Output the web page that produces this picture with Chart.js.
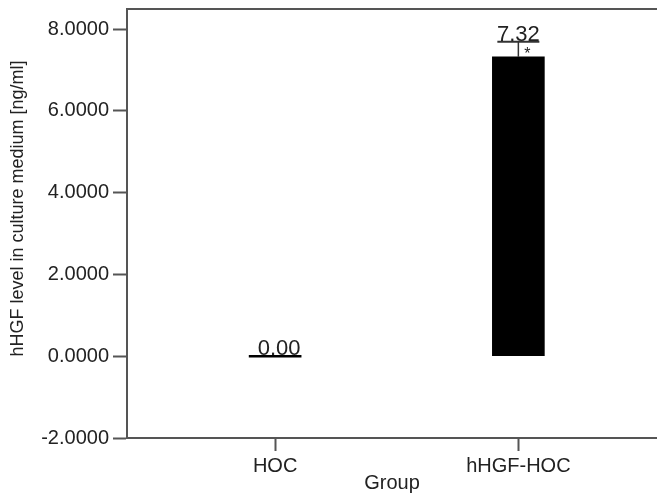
<!DOCTYPE html>
<html>
<head>
<meta charset="utf-8">
<script src="https://cdn.jsdelivr.net/npm/chart.js@4.4.0/dist/chart.umd.min.js"></script>
<style>
  body { margin: 0; background: #fff; }
  #wrap { width: 657px; height: 495px; position: relative; }
</style>
</head>
<body>
<div id="wrap"><canvas id="hgfChart"></canvas></div>
<script>
// hHGF level per group (bar + error bar)
const categories = ['HOC', 'hHGF-HOC'];
const means = [0.00, 7.32];
const errors = [0.00, 0.37];
const marks = ['', '*'];
const yTicks = [-2, 0, 2, 4, 6, 8];

const axisColor = '#555555';
const textColor = '#222222';
const fontFamily = "'Liberation Sans', Arial, sans-serif";

// error bars, value labels, significance marks, top frame line
const errorBarPlugin = {
    id: 'errorBars',
    afterDatasetsDraw(chart) {
        const ctx = chart.ctx;
        const yScale = chart.scales.y;
        const meta = chart.getDatasetMeta(0);
        ctx.save();
        meta.data.forEach((bar, i) => {
            const x = bar.x;
            const yBase = yScale.getPixelForValue(means[i]);
            const yTop = yScale.getPixelForValue(means[i] + errors[i]);
            ctx.strokeStyle = '#333';
            ctx.lineWidth = 1.5;
            ctx.beginPath();
            ctx.moveTo(x, yBase);
            ctx.lineTo(x, yTop);
            ctx.stroke();
            if (errors[i] > 0) {
                ctx.lineWidth = 2;
                ctx.beginPath();
                ctx.moveTo(x - 21, yTop);
                ctx.lineTo(x + 21, yTop);
                ctx.stroke();
            }
            ctx.fillStyle = textColor;
            ctx.font = '22px ' + fontFamily;
            ctx.textAlign = 'center';
            ctx.textBaseline = 'alphabetic';
            ctx.fillText(means[i].toFixed(2), x + (errors[i] > 0 ? 0 : 4), yTop - 1);
            if (marks[i]) {
                ctx.font = '16px ' + fontFamily;
                ctx.fillText(marks[i], x + 9, yTop + 17);
            }
        });
        const area = chart.chartArea;
        ctx.strokeStyle = axisColor;
        ctx.lineWidth = 2;
        ctx.beginPath();
        ctx.moveTo(area.left, area.top);
        ctx.lineTo(area.right, area.top);
        ctx.stroke();
        ctx.restore();
    }
};

function initializeHgfChart() {
    const ctx = document.getElementById('hgfChart');
    if (!ctx) return;

    new Chart(ctx, {
        type: 'bar',
        data: {
            datasets: [{
                label: 'hHGF level',
                data: means.map((v, i) => ({ x: i + 1, y: v })),
                backgroundColor: '#000000',
                borderWidth: 0,
                barThickness: 52,
                minBarLength: 2
            }]
        },
        options: {
            responsive: true,
            maintainAspectRatio: false,
            animation: false,
            layout: {
                padding: { top: 9, bottom: 0, left: 0, right: 0 }
            },
            plugins: {
                legend: { display: false },
                tooltip: { enabled: false }
            },
            scales: {
                x: {
                    type: 'linear',
                    offset: false,
                    min: 0.391,
                    max: 2.57,
                    afterBuildTicks: (scale) => {
                        scale.ticks = categories.map((c, i) => ({ value: i + 1 }));
                    },
                    afterFit: (scale) => {
                        scale.height = 57;
                        scale.paddingLeft = 0;
                        scale.paddingRight = 0;
                    },
                    ticks: {
                        autoSkip: false,
                        maxRotation: 0,
                        padding: 3,
                        color: textColor,
                        font: { family: fontFamily, size: 20 },
                        callback: (value) => categories[value - 1]
                    },
                    grid: {
                        offset: false,
                        drawOnChartArea: false,
                        tickLength: 13,
                        tickWidth: 2,
                        tickColor: axisColor
                    },
                    border: { color: axisColor, width: 2 },
                    title: {
                        display: true,
                        text: 'Group',
                        color: textColor,
                        font: { family: fontFamily, size: 20 },
                        padding: { top: 0, bottom: 0 }
                    }
                },
                y: {
                    min: -2,
                    max: 8.49,
                    afterBuildTicks: (scale) => {
                        scale.ticks = yTicks.map(v => ({ value: v }));
                    },
                    afterFit: (scale) => {
                        scale.width = 127;
                        scale.paddingTop = 0;
                        scale.paddingBottom = 0;
                    },
                    ticks: {
                        padding: 4,
                        color: textColor,
                        font: { family: fontFamily, size: 20 },
                        callback: (value) => value.toFixed(4)
                    },
                    grid: {
                        drawOnChartArea: false,
                        tickLength: 14,
                        tickWidth: 2,
                        tickColor: axisColor
                    },
                    border: { color: axisColor, width: 2 },
                    title: {
                        display: true,
                        text: '      hHGF level in culture medium [ng/ml]',
                        color: textColor,
                        font: { family: fontFamily, size: 18 },
                        padding: { top: 7, bottom: 0 }
                    }
                }
            }
        },
        plugins: [errorBarPlugin]
    });
}

document.addEventListener('DOMContentLoaded', function () {
    initializeHgfChart();
});
</script>
</body>
</html>
